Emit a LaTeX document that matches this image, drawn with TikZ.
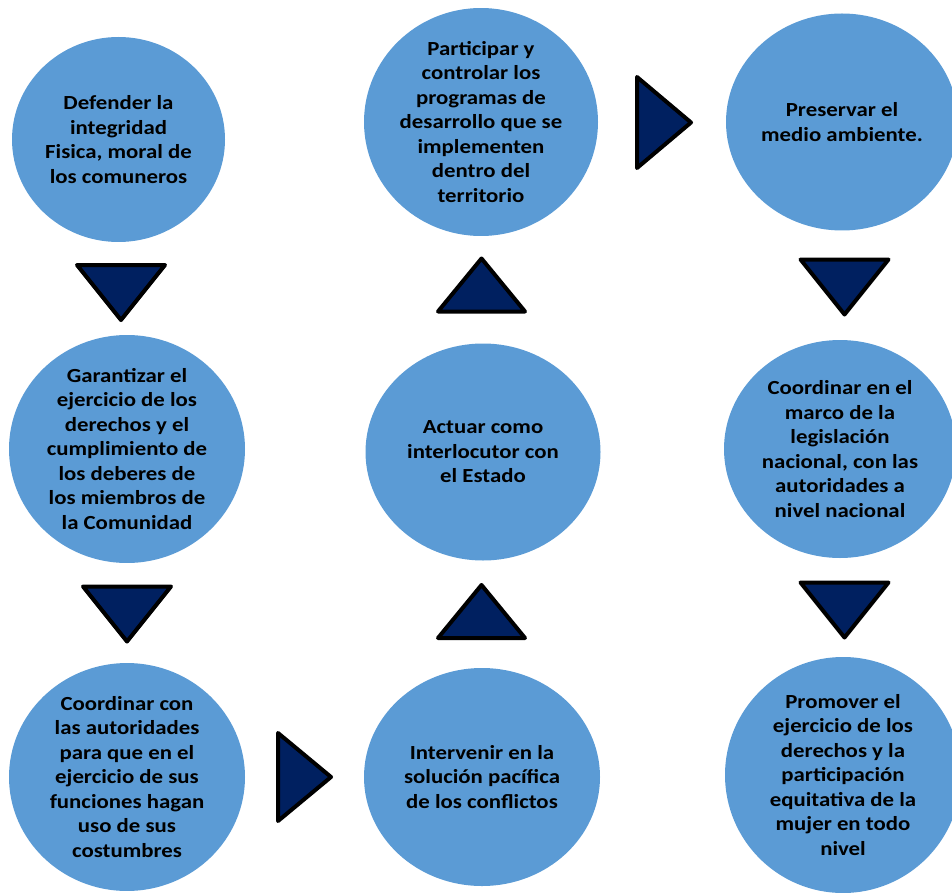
\documentclass[tikz,border=0pt]{standalone}
\usepackage{fontspec}
\setmainfont{Carlito}[FakeStretch=1.14]
\usetikzlibrary{shapes.geometric}

\definecolor{bubblue}{HTML}{5B9BD5}
\definecolor{arrnavy}{HTML}{002060}

\tikzset{
    bubble/.style={ellipse, fill=bubblue, minimum width=236pt, minimum height=218pt,
        inner sep=0pt, align=center, font=\bfseries\fontsize{20}{24.5}\selectfont},
    tri/.style={fill=arrnavy, draw=black, line width=4pt, line join=round}
}

\begin{document}
\begin{tikzpicture}[x=1pt, y=-1pt]
    \useasboundingbox (0,0) rectangle (952,893);

    % Circles, left column
    \node[bubble, minimum width=213pt, minimum height=205pt] (defender) at (118.5,139.5)
        {Defender la\\integridad\\Fisica, moral de\\los comuneros};
    \node[bubble] (garantizar) at (127,449)
        {Garantizar el\\ejercicio de los\\derechos y el\\cumplimiento de\\los deberes de\\los miembros de\\la Comunidad};
    \node[bubble, minimum height=219pt] (coordcon) at (127,777)
        {Coordinar con\\las autoridades\\para que en el\\ejercicio de sus\\funciones hagan\\uso de sus\\costumbres};

    % Circles, middle column
    \node[bubble] (intervenir) at (482,777)
        {Intervenir en la\\soluci\'on pac\'ifica\\de los conflictos};
    \node[bubble, minimum width=235pt, minimum height=217pt] (actuar) at (483,452)
        {Actuar como\\interlocutor con\\el Estado};
    \node[bubble, minimum width=234pt, minimum height=217pt] (participar) at (481,122)
        {Participar y\\controlar los\\programas de\\desarrollo que se\\implementen\\dentro del\\territorio};

    % Circles, right column
    \node[bubble, minimum width=232pt, minimum height=217pt] (preservar) at (842,122)
        {Preservar el\\medio ambiente.};
    \node[bubble, minimum width=232pt] (coorden) at (840,449)
        {Coordinar en el\\marco de la\\legislaci\'on\\nacional, con las\\autoridades a\\nivel nacional};
    \node[bubble, minimum width=236pt, minimum height=236pt] (promover) at (843,775)
        {Promover el\\ejercicio de los\\derechos y la\\participaci\'on\\equitativa de la\\mujer en todo\\nivel};

    % Triangle centres
    \coordinate (tA) at (121,292.5);   % defender -> garantizar
    \coordinate (tB) at (127,614);     % garantizar -> coordcon
    \coordinate (tC) at (304.5,777);   % coordcon -> intervenir
    \coordinate (tD) at (481.5,611.5); % intervenir -> actuar
    \coordinate (tE) at (481.5,285);   % actuar -> participar
    \coordinate (tF) at (664,122.5);   % participar -> preservar
    \coordinate (tG) at (844.5,287);   % preservar -> coorden
    \coordinate (tH) at (844.5,610);   % coorden -> promover

    % Down-pointing triangles
    \draw[tri, shift={(tA)}] (-44,-27.5) -- (44,-27.5) -- (0,27.5) -- cycle;
    \draw[tri, shift={(tB)}] (-44,-27.5) -- (44,-27.5) -- (0,27.5) -- cycle;
    \draw[tri, shift={(tG)}] (-44,-27.5) -- (44,-27.5) -- (0,27.5) -- cycle;
    \draw[tri, shift={(tH)}] (-44,-27.5) -- (44,-27.5) -- (0,27.5) -- cycle;

    % Up-pointing triangles
    \draw[tri, shift={(tD)}] (-43.5,26.5) -- (43.5,26.5) -- (0,-26.5) -- cycle;
    \draw[tri, shift={(tE)}] (-43.5,26.5) -- (43.5,26.5) -- (0,-26.5) -- cycle;

    % Right-pointing triangles
    \draw[tri, shift={(tC)}] (-26.5,-44) -- (26.5,0) -- (-26.5,44) -- cycle;
    \draw[tri, shift={(tF)}] (-27,-45.5) -- (27,0) -- (-27,45.5) -- cycle;
\end{tikzpicture}
\end{document}
